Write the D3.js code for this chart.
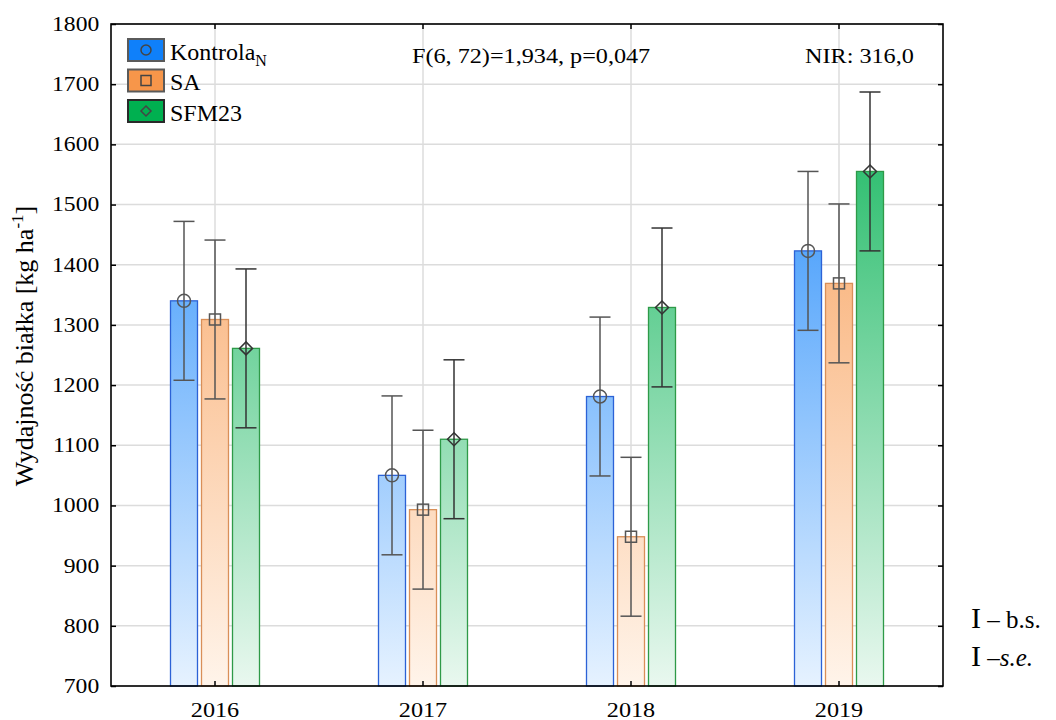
<!DOCTYPE html>
<html>
<head>
<meta charset="utf-8">
<script src="https://cdn.jsdelivr.net/npm/d3@7"></script>
<style>
    body { margin: 0; background: #fff; }
</style>
</head>
<body>
<div id="chartdiv"></div>
<script>
// data
var years = ["2016", "2017", "2018", "2019"];
var seriesNames = ["Kontrola", "SA", "SFM23"];
var kontrolaVals = [1340, 1050, 1181, 1423];
var saVals = [1309, 993, 948, 1369];
var sfmVals = [1261, 1110, 1329, 1555];
var kontrolaSe = [132, 132, 132, 132];
var saSe = [132, 132, 132, 132];
var sfmSe = [132, 132, 132, 132];
var yTicks = [700, 800, 900, 1000, 1100, 1200, 1300, 1400, 1500, 1600, 1700, 1800];

var serif = "'Liberation Serif', 'Times New Roman', 'DejaVu Serif', serif";

var margin = {top: 24, right: 113, bottom: 34, left: 111},
    width = 1056 - margin.left - margin.right,
    height = 720 - margin.top - margin.bottom;

var colors = ["#0f80fa", "#f7964a", "#00b050"],
    lightColors = ["#e6f2ff", "#fff4ea", "#e9f8ef"],
    strokeColors = ["#2c62d6", "#d98f58", "#2e9a48"];

var series = seriesNames.map(function (name, i) {
    var vals = [kontrolaVals, saVals, sfmVals][i];
    var ses = [kontrolaSe, saSe, sfmSe][i];
    return {
        name: name,
        index: i,
        values: years.map(function (y, j) {
            return {year: y, value: vals[j], se: ses[j], s: i};
        })
    };
});

var x0 = d3.scaleBand().domain(years).range([0, width]).padding(0);
var x1 = d3.scaleBand().domain(seriesNames).range([-44.5, 44.5]).paddingInner(4 / 31);
var y = d3.scaleLinear().domain([700, 1800]).range([height, 0]);

var svgRoot = d3.select("#chartdiv").append("svg")
    .attr("width", 1056)
    .attr("height", 720)
    .style("font-family", serif);

var defs = svgRoot.append("defs");
seriesNames.forEach(function (name, i) {
    var grad = defs.append("linearGradient")
        .attr("id", "grad" + i)
        .attr("gradientUnits", "userSpaceOnUse")
        .attr("x1", 0).attr("y1", 0)
        .attr("x2", 0).attr("y2", height);
    grad.append("stop").attr("offset", "0%").attr("stop-color", colors[i]);
    grad.append("stop").attr("offset", "100%").attr("stop-color", lightColors[i]);
});

var svg = svgRoot.append("g")
    .attr("transform", "translate(" + margin.left + "," + margin.top + ")");

// grid
svg.append("g")
    .selectAll("line")
    .data(yTicks)
    .enter().append("line")
    .attr("x1", 0).attr("x2", width)
    .attr("y1", function (d) { return y(d); })
    .attr("y2", function (d) { return y(d); })
    .style("stroke", "#dcdcdc")
    .style("stroke-width", 1.5);

svg.append("g")
    .selectAll("line")
    .data(years)
    .enter().append("line")
    .attr("x1", function (d) { return x0(d) + x0.bandwidth() / 2; })
    .attr("x2", function (d) { return x0(d) + x0.bandwidth() / 2; })
    .attr("y1", 0).attr("y2", height)
    .style("stroke", "#dcdcdc")
    .style("stroke-width", 1.5);

// bars
var slice = svg.selectAll(".slice")
    .data(series)
    .enter().append("g")
    .attr("class", "slice");

slice.selectAll("rect")
    .data(function (d) { return d.values; })
    .enter().append("rect")
    .attr("x", function (d) { return x0(d.year) + x0.bandwidth() / 2 + x1(seriesNames[d.s]); })
    .attr("width", x1.bandwidth())
    .attr("y", function (d) { return y(d.value); })
    .attr("height", function (d) { return height - y(d.value); })
    .style("fill", function (d) { return "url(#grad" + d.s + ")"; })
    .style("stroke", function (d) { return strokeColors[d.s]; })
    .style("stroke-width", 1.3);

function cx(d) {
    return x0(d.year) + x0.bandwidth() / 2 + x1(seriesNames[d.s]) + x1.bandwidth() / 2;
}

// error bars
var errs = svg.append("g").selectAll("g")
    .data(series.reduce(function (a, s) { return a.concat(s.values); }, []))
    .enter().append("g")
    .style("stroke", function (d) { return d.s == 2 ? "#333" : "#555"; })
    .style("stroke-width", 1.5)
    .style("fill", "none");

errs.append("line")
    .attr("x1", cx).attr("x2", cx)
    .attr("y1", function (d) { return y(d.value + d.se); })
    .attr("y2", function (d) { return y(d.value - d.se); });
errs.append("line")
    .attr("x1", function (d) { return cx(d) - 10.5; })
    .attr("x2", function (d) { return cx(d) + 10.5; })
    .attr("y1", function (d) { return y(d.value + d.se); })
    .attr("y2", function (d) { return y(d.value + d.se); });
errs.append("line")
    .attr("x1", function (d) { return cx(d) - 10.5; })
    .attr("x2", function (d) { return cx(d) + 10.5; })
    .attr("y1", function (d) { return y(d.value - d.se); })
    .attr("y2", function (d) { return y(d.value - d.se); });

function marker(g, s, px, py, r) {
    if (s == 0) {
        g.append("circle").attr("cx", px).attr("cy", py).attr("r", r);
    } else if (s == 1) {
        g.append("rect").attr("x", px - r).attr("y", py - r)
            .attr("width", 2 * r).attr("height", 2 * r);
    } else {
        g.append("path").attr("d", "M" + px + "," + (py - r) + "L" + (px + r) + "," + py +
            "L" + px + "," + (py + r) + "L" + (px - r) + "," + py + "Z");
    }
}

errs.each(function (d) {
    marker(d3.select(this), d.s, cx(d), y(d.value), d.s == 1 ? 5.5 : 6.5);
});

// axes
var yAxis = svg.append("g")
    .call(d3.axisLeft(y).tickValues(yTicks).tickFormat(d3.format("d")).tickSize(-5).tickPadding(10));
yAxis.attr("font-family", serif);
yAxis.select(".domain").remove();
yAxis.selectAll("line").style("stroke", "#000").style("stroke-width", 1.5);
yAxis.selectAll("text")
    .style("font-family", serif)
    .style("font-size", "20px")
    .style("fill", "#000")
    .attr("transform", "scale(1.18,1)");

svg.append("g")
    .attr("transform", "translate(" + width + ",0)")
    .call(d3.axisRight(y).tickValues(yTicks).tickSize(-5).tickFormat(""))
    .call(function (g) {
        g.select(".domain").remove();
        g.selectAll("line").style("stroke", "#000").style("stroke-width", 1.5);
    });

var xAxis = svg.append("g")
    .attr("transform", "translate(0," + height + ")")
    .call(d3.axisBottom(x0).tickSize(-5).tickPadding(15));
xAxis.attr("font-family", serif);
xAxis.select(".domain").remove();
xAxis.selectAll("line").style("stroke", "#000").style("stroke-width", 1.5);
xAxis.selectAll("text")
    .style("font-family", serif)
    .style("font-size", "22px")
    .style("fill", "#000")
    .attr("transform", "scale(1.1,1)");

svg.append("g")
    .call(d3.axisTop(x0).tickSize(-5).tickFormat(""))
    .call(function (g) {
        g.select(".domain").remove();
        g.selectAll("line").style("stroke", "#000").style("stroke-width", 1.5);
    });

svg.append("rect")
    .attr("width", width)
    .attr("height", height)
    .style("fill", "none")
    .style("stroke", "#000")
    .style("stroke-width", 1.6);

// y title
svgRoot.append("text")
    .attr("transform", "translate(33," + (margin.top + 322) + ") rotate(-90)")
    .style("text-anchor", "middle")
    .style("font-family", serif)
    .style("font-size", "26px")
    .html("Wydajność białka [kg ha<tspan dy='-10' font-size='17px'>-1</tspan><tspan dy='10'>]</tspan>");

// statistics
svgRoot.append("text")
    .attr("transform", "translate(412,63) scale(1.1,1)")
    .style("font-family", serif)
    .style("font-size", "22px")
    .text("F(6, 72)=1,934, p=0,047");

svgRoot.append("text")
    .attr("transform", "translate(805,63) scale(1.1,1)")
    .style("font-family", serif)
    .style("font-size", "22px")
    .text("NIR: 316,0");

// legend
var legend = svgRoot.selectAll(".legend")
    .data(series)
    .enter().append("g")
    .attr("class", "legend")
    .attr("transform", function (d, i) {
        return "translate(128," + (39 + i * 30.5) + ")";
    });

legend.append("rect")
    .attr("width", 36)
    .attr("height", 22)
    .style("fill", function (d) { return colors[d.index]; })
    .style("stroke", function (d) { return d.index == 2 ? "#2a2a2a" : "#5a5a5a"; })
    .style("stroke-width", 2);

legend.each(function (d) {
    var g = d3.select(this).append("g")
        .style("fill", "none")
        .style("stroke", "#444")
        .style("stroke-width", 1.5);
    marker(g, d.index, 18, 11, 5);
});

legend.append("text")
    .attr("x", 42)
    .attr("y", 20.5)
    .style("font-family", serif)
    .style("font-size", "24px")
    .html(function (d) {
        return d.index == 0 ? "Kontrola<tspan dy='6' font-size='16px'>N</tspan>" : d.name;
    });

// error bar key
var key = svgRoot.append("g").attr("transform", "translate(971,0)")
    .style("font-family", serif);
key.append("text")
    .attr("y", 628)
    .html("<tspan font-size='30px'>I</tspan><tspan font-size='25px'> – b.s.</tspan>");
key.append("text")
    .attr("y", 666)
    .html("<tspan font-size='30px'>I</tspan><tspan font-size='25px'> –</tspan><tspan font-size='25px' font-style='italic'>s.e.</tspan>");
</script>
</body>
</html>
